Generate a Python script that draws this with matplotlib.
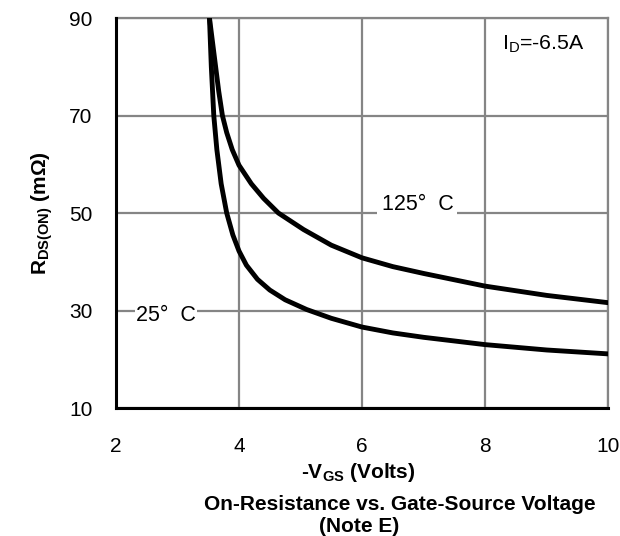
import numpy as np
import matplotlib
matplotlib.use("Agg")
from matplotlib import pyplot as plt

plt.rcParams['font.family'] = ['Liberation Sans', 'DejaVu Sans']
plt.rcParams['mathtext.fontset'] = 'custom'
plt.rcParams['mathtext.rm'] = 'Liberation Sans'
plt.rcParams['mathtext.bf'] = 'Liberation Sans:bold'

# curves
vgs_25 = [3.52, 3.55, 3.59, 3.64, 3.71, 3.80, 3.90, 4.0, 4.12, 4.3, 4.5, 4.75, 5.1,
          5.5, 6.0, 6.5, 7.0, 8.0, 9.0, 10.0]
rds_25 = [90, 80, 70, 63, 56, 50, 45.5, 42.2, 39.3, 36.4, 34.2, 32.2, 30.2,
          28.4, 26.6, 25.4, 24.5, 23.0, 21.9, 21.1]
vgs_125 = [3.52, 3.57, 3.62, 3.67, 3.73, 3.80, 3.89, 4.0, 4.2, 4.4, 4.64, 5.05, 5.5,
           6.0, 6.5, 7.0, 8.0, 9.0, 10.0]
rds_125 = [90, 85, 80, 75, 70, 66.5, 63, 59.8, 56.0, 53.0, 50, 46.6, 43.4,
           40.8, 39.0, 37.6, 35.0, 33.1, 31.6]

xticks = [2, 4, 6, 8, 10]
yticks = [10, 30, 50, 70, 90]

fig = plt.figure(figsize=(6.2, 5.36), dpi=100)
ax = fig.add_axes([0.187, 0.2388, 0.794, 0.7276])

ax.plot(vgs_25, rds_25, color='black', lw=3.5, solid_joinstyle='round', zorder=3)
ax.plot(vgs_125, rds_125, color='black', lw=3.5, solid_joinstyle='round', zorder=3)

ax.set_xlim(2, 10)
ax.set_ylim(10, 90)
ax.set_xticks(xticks)
ax.set_yticks(yticks)
ax.tick_params(length=0, labelsize=15)
ax.tick_params(axis='y', pad=17)
ax.tick_params(axis='x', pad=21)
ax.grid(True, color='#858585', lw=1.6)
ax.set_axisbelow(True)
for s in ['left', 'bottom']:
    ax.spines[s].set_color('black')
    ax.spines[s].set_linewidth(2.2)
    ax.spines[s].set_zorder(4)
for s in ['top', 'right']:
    ax.spines[s].set_color('#858585')
    ax.spines[s].set_linewidth(1.6)

ax.text(6.9, 51.8, '125°  C', fontsize=15.5, ha='center', va='center',
        bbox=dict(facecolor='white', edgecolor='none', pad=3), zorder=2)
ax.text(2.81, 29.0, '25°  C', fontsize=15.5, ha='center', va='center',
        bbox=dict(facecolor='white', edgecolor='none', pad=1), zorder=2)
ax.text(8.27, 84.5, r'I$\mathregular{_D}$=-6.5A', fontsize=15.3, ha='left', va='center')

ax.set_ylabel(r'$\mathbf{R_{DS(ON)}}$ (mΩ)', fontsize=15, fontweight='bold', labelpad=10)

fig.text(358/620, 1 - 473/536, r'-$\mathbf{V_{GS}}$ (Volts)', fontsize=15,
         fontweight='bold', ha='center', va='center')
fig.text(400/620, 1 - 505/536, 'On-Resistance vs. Gate-Source Voltage', fontsize=15,
         fontweight='bold', ha='center', va='center')
fig.text(359/620, 1 - 526/536, '(Note E)', fontsize=15, fontweight='bold',
         ha='center', va='center')

fig.savefig('out.png', dpi=100)
